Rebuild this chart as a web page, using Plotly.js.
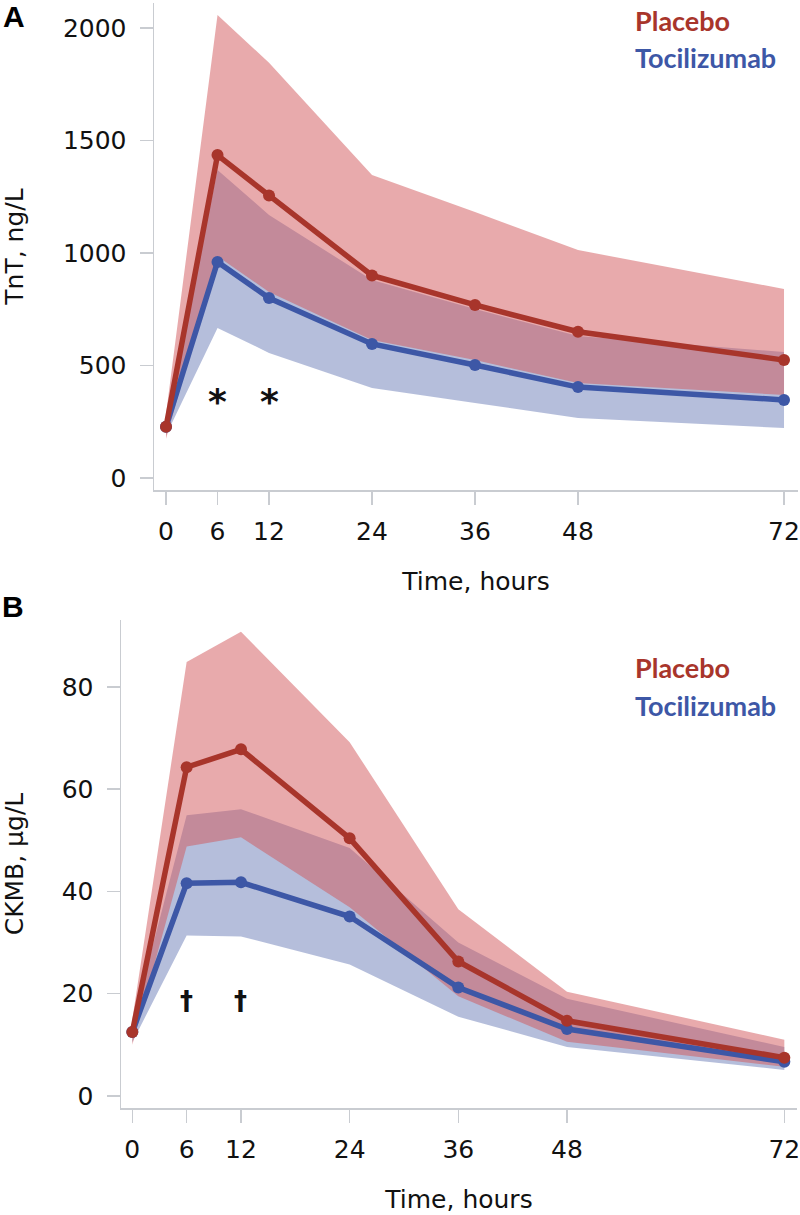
<!DOCTYPE html>
<html>
<head>
<meta charset="utf-8">
<script src="https://cdn.plot.ly/plotly-3.0.1.min.js"></script>
<style>html,body{margin:0;padding:0;background:#fff;}#chart{width:800px;height:1215px;}</style>
</head>
<body>
<div id="chart"></div>
<script>
// ---- data ----
var hours = [0, 6, 12, 24, 36, 48, 72];
var xTickVals = [0, 6, 12, 24, 36, 48, 72];

// Panel A: TnT, ng/L (median and interquartile band)
var tntPlaceboMid   = [228, 1435, 1256, 900, 769, 650, 524];
var tntPlaceboUpper = [285, 2058, 1845, 1347, 1182, 1013, 840];
var tntPlaceboLower = [175, 985, 827, 613, 524, 422, 369];
var tntTociMid      = [228, 960, 800, 596, 502, 404, 347];
var tntTociUpper    = [265, 1369, 1169, 880, 751, 631, 560];
var tntTociLower    = [190, 667, 556, 400, 333, 267, 222];
var tntTickVals     = [0, 500, 1000, 1500, 2000];
var tntSigHours     = [6, 12];
var tntSigLevel     = 385;

// Panel B: CKMB, µg/L
var ckPlaceboMid    = [12.5, 64.3, 67.8, 50.4, 26.3, 14.7, 7.5];
var ckPlaceboUpper  = [15, 84.9, 90.8, 69.2, 36.5, 20.4, 11.0];
var ckPlaceboLower  = [10, 48.8, 50.6, 36.9, 19.5, 10.6, 5.7];
var ckTociMid       = [12.5, 41.6, 41.8, 35.1, 21.2, 13.1, 6.7];
var ckTociUpper     = [14, 54.9, 56.1, 48.5, 30.0, 19.0, 9.6];
var ckTociLower     = [10.5, 31.4, 31.2, 25.7, 15.5, 9.6, 5.1];
var ckTickVals      = [0, 20, 40, 60, 80];
var ckSigHours      = [6, 12];
var ckSigLevel      = 19;

var groupNames = ['Placebo', 'Tocilizumab'];

// ---- styles ----
var RED = '#a8352b', BLUE = '#3d57a6';
var RED_FILL = 'rgba(209,85,89,0.5)', BLUE_FILL = 'rgba(70,92,165,0.4)';
var AX = '#c9ccd1';
var FONT = 'DejaVu Sans, Verdana, sans-serif';

function band(lower, upper, fill, xa, ya) {
  return [
    {x: hours, y: lower, xaxis: xa, yaxis: ya, mode: 'lines', line: {width: 0, color: fill}, hoverinfo: 'skip', showlegend: false},
    {x: hours, y: upper, xaxis: xa, yaxis: ya, mode: 'lines', line: {width: 0, color: fill}, fill: 'tonexty', fillcolor: fill, hoverinfo: 'skip', showlegend: false}
  ];
}
function line(y, color, name, xa, ya) {
  return {x: hours, y: y, xaxis: xa, yaxis: ya, name: name, mode: 'lines+markers',
    line: {color: color, width: 5.5}, marker: {color: color, size: 12}, showlegend: false};
}

var traces = [].concat(
  band(tntTociLower, tntTociUpper, BLUE_FILL, 'x', 'y'),
  band(tntPlaceboLower, tntPlaceboUpper, RED_FILL, 'x', 'y'),
  [line(tntTociMid, BLUE, groupNames[1], 'x', 'y'), line(tntPlaceboMid, RED, groupNames[0], 'x', 'y')],
  band(ckTociLower, ckTociUpper, BLUE_FILL, 'x2', 'y2'),
  band(ckPlaceboLower, ckPlaceboUpper, RED_FILL, 'x2', 'y2'),
  [line(ckTociMid, BLUE, groupNames[1], 'x2', 'y2'), line(ckPlaceboMid, RED, groupNames[0], 'x2', 'y2')]
);

function xAxis(domain, range, anchor) {
  return {domain: domain, range: range, anchor: anchor, tickvals: xTickVals, ticktext: xTickVals.map(String),
    showline: true, linecolor: AX, linewidth: 1.5, ticks: 'outside', ticklen: 13, tickwidth: 1.5, tickcolor: AX,
    showgrid: false, zeroline: false, tickfont: {family: FONT, size: 25, color: '#111'}, ticklabelstandoff: 5,
    ticklabeloverflow: 'allow',
    title: {text: 'Time, hours', font: {family: FONT, size: 25, color: '#111'}, standoff: 28}};
}
function yAxis(domain, range, anchor, ticks, title) {
  return {domain: domain, range: range, anchor: anchor, tickvals: ticks, ticktext: ticks.map(String),
    showline: true, linecolor: AX, linewidth: 1.5, ticks: 'outside', ticklen: 13, tickwidth: 1.5, tickcolor: AX,
    showgrid: false, zeroline: false, tickfont: {family: FONT, size: 25, color: '#111'}, ticklabelstandoff: 8,
    title: {text: title, font: {family: FONT, size: 25, color: '#111'}, standoff: 34}};
}

var H = 1215, W = 800;
function py(p) { return 1 - p / H; }

var annotations = [];
function legend(topPx) {
  annotations.push({xref: 'paper', yref: 'paper', x: 633 / W, y: py(topPx), xanchor: 'left', yanchor: 'middle',
    text: '<b>' + groupNames[0] + '</b>', showarrow: false, font: {family: 'Lato, Open Sans, sans-serif', size: 27, color: RED}});
  annotations.push({xref: 'paper', yref: 'paper', x: 633 / W, y: py(topPx + 38), xanchor: 'left', yanchor: 'middle',
    text: '<b>' + groupNames[1] + '</b>', showarrow: false, font: {family: 'Lato, Open Sans, sans-serif', size: 27, color: BLUE}});
}
legend(20);
legend(667);
annotations.push({xref: 'paper', yref: 'paper', x: 1 / W, y: py(17), xanchor: 'left', yanchor: 'middle', text: '<b>A</b>', showarrow: false,
  font: {family: 'Liberation Sans, Arial, sans-serif', size: 30, color: '#000'}});
annotations.push({xref: 'paper', yref: 'paper', x: 0 / W, y: py(606), xanchor: 'left', yanchor: 'middle', text: '<b>B</b>', showarrow: false,
  font: {family: 'Liberation Sans, Arial, sans-serif', size: 30, color: '#000'}});
tntSigHours.forEach(function (h) {
  annotations.push({xref: 'x', yref: 'y', x: h, y: tntSigLevel, text: '<b>*</b>', showarrow: false, yshift: -10,
    font: {family: FONT, size: 36, color: '#111'}});
});
ckSigHours.forEach(function (h) {
  annotations.push({xref: 'x2', yref: 'y2', x: h, y: ckSigLevel, text: '<b>†</b>', showarrow: false, yshift: -2,
    font: {family: FONT, size: 26, color: '#111'}});
});

var layout = {
  width: W, height: H, margin: {l: 0, r: 0, t: 0, b: 0}, paper_bgcolor: '#fff', plot_bgcolor: '#fff',
  showlegend: false,
  xaxis: xAxis([154 / W, 798 / W], [-1.4, 73.63], 'y'),
  yaxis: yAxis([py(490), py(3)], [-53.3, 2111], 'x', tntTickVals, 'TnT, ng/L'),
  xaxis2: xAxis([121 / W, 797 / W], [-1.25, 73.4], 'y2'),
  yaxis2: yAxis([py(1108), py(620)], [-2.35, 93.1], 'x2', ckTickVals, 'CKMB, µg/L'),
  annotations: annotations
};

Plotly.newPlot('chart', traces, layout, {displayModeBar: false, staticPlot: true});
</script>
</body>
</html>
